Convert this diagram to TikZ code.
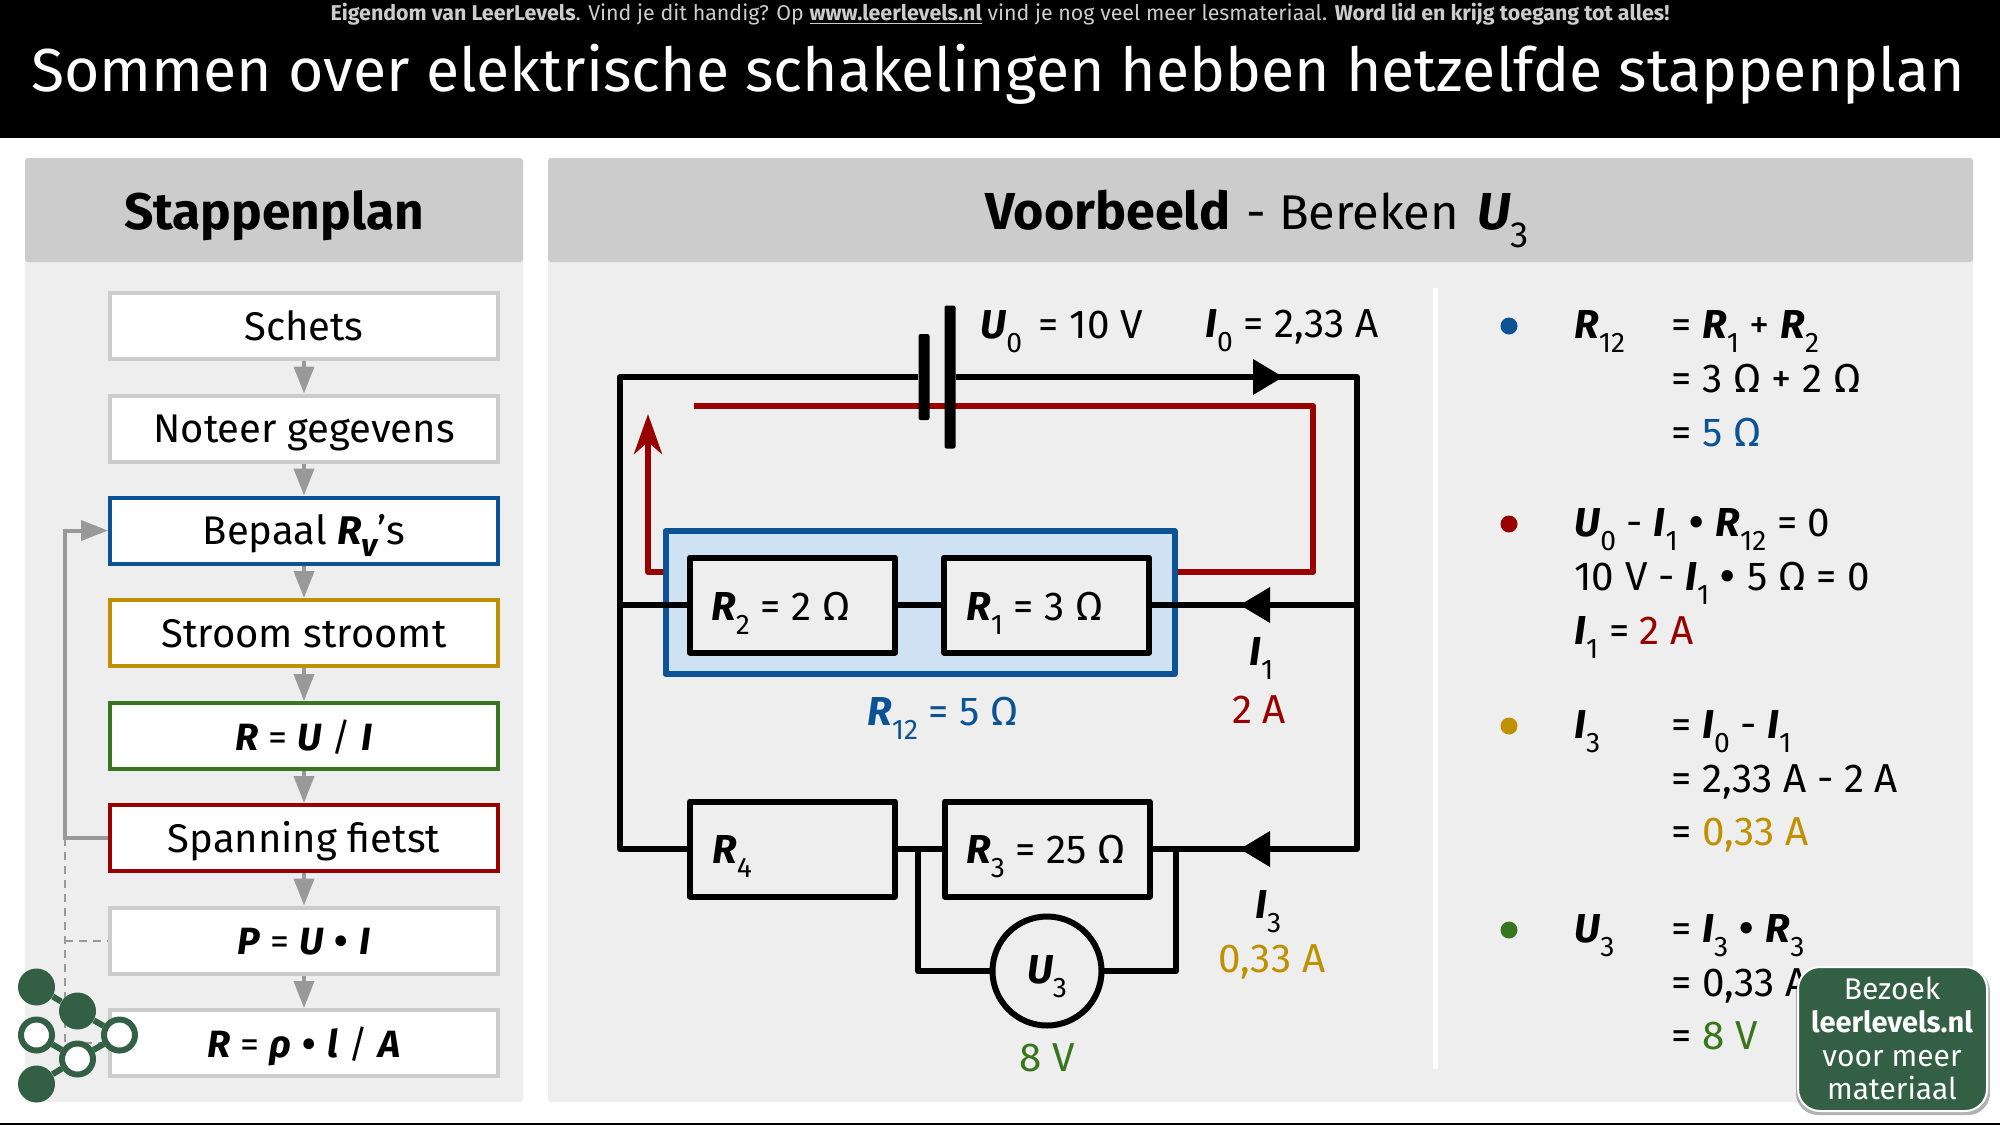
\documentclass[tikz,border=0pt]{standalone}
\usepackage{fontspec}
\usepackage{graphicx}
\setmainfont{Fira Sans}
\usetikzlibrary{arrows.meta,calc}
\definecolor{cblue}{HTML}{0B5394}
\definecolor{cred}{HTML}{990000}
\definecolor{cgold}{HTML}{BF9000}
\definecolor{cgreen}{HTML}{38761D}
\definecolor{lgreen}{HTML}{336045}
\definecolor{panel}{HTML}{EEEEEE}
\definecolor{phead}{HTML}{CCCCCC}
\definecolor{garr}{HTML}{999999}
\newcommand\vb[1]{{\bfseries\itshape #1}}
\newcommand\sbs[1]{\raisebox{-.36em}{\scalebox{.7}{#1}}}
\newcommand\fsz[1]{\fontsize{#1}{#1}\selectfont}
\newcommand\bdot{\raisebox{-.08em}{\scalebox{1.25}{•}}}
\tikzset{
  x=.5pt,y=-.5pt,
  txt/.style={anchor=base west,inner sep=0pt,font=\fsz{20.2pt}},
  ctxt/.style={anchor=base,inner sep=0pt,font=\fsz{20.2pt}},
  stepbox/.style={draw=phead,fill=white,line width=2pt,minimum width=194pt,minimum height=33pt,
    inner sep=0pt,text height=14pt,text depth=0pt,font=\fsz{20pt}},
  formbox/.style={stepbox,font=\fsz{19pt}},
  garrow/.style={draw=garr,line width=2pt,-{Triangle[length=13.5pt,width=10pt]}},
  wire/.style={draw=black,line width=3pt,line join=round},
  rbox/.style={draw=black,fill=panel,line width=3pt,minimum width=102.5pt,minimum height=47.5pt,inner sep=0pt,line join=round},
  plate/.style={fill=black,rounded corners=1pt,minimum width=5.5pt,inner sep=0pt},
  flow/.style={fill=black},
  bullet/.style={circle,minimum size=8.5pt,inner sep=0pt},
  logofill/.style={circle,fill=lgreen,minimum size=18.5pt,inner sep=0pt},
  logoring/.style={circle,draw=lgreen,fill=white,line width=3pt,minimum size=15.5pt,inner sep=0pt},
  logoline/.style={draw=lgreen,line width=3pt},
  dash line/.style={draw=garr,line width=1pt,dash pattern=on 4pt off 3pt},
}
\begin{document}
\begin{tikzpicture}
\useasboundingbox (0,0) rectangle (2000,1125);
\fill[white] (0,0) rectangle (2000,1125);
% top bar
\fill[black] (0,0) rectangle (2000,138);
\fill[black] (0,1123) rectangle (2000,1125);
\node[ctxt,text=phead,font=\fsz{10.7pt}] (topnote) at (1000,20) {\textbf{Eigendom van LeerLevels}. Vind je dit handig? Op \textbf{\underline{www.leerlevels.nl}} vind je nog veel meer lesmateriaal. \textbf{Word lid en krijg toegang tot alles!}};
\node[ctxt,text=white,font=\fsz{30.35pt}] (title) at (998,91) {Sommen over elektrische schakelingen hebben hetzelfde stappenplan};
% panels
\fill[panel,rounded corners=1.5pt] (25,158) rectangle (523,1102);
\fill[phead,rounded corners=1.5pt] (25,158) rectangle (523,262);
\fill[panel,rounded corners=1.5pt] (548,158) rectangle (1973,1102);
\fill[phead,rounded corners=1.5pt] (548,158) rectangle (1973,262);
\node[ctxt,font=\fsz{25.7pt}\bfseries] (h1) at (274,229) {Stappenplan};
\node[txt,font=\fsz{26pt}] (h2) at (985,229) {\textbf{Voorbeeld}\hspace{.05em} {\fsz{24.4pt}- Bereken }\hspace{.1em}\vb{U}\sbs{3}};
% step boxes
\node[stepbox] (s1) at (304,326) {Schets};
\node[stepbox] (s2) at (304,428.5) {Noteer gegevens};
\node[stepbox,draw=cblue] (s3) at (304,530.5) {Bepaal \vb{R}\raisebox{-.3em}{\vb{\scalebox{.8}{v}}}’s};
\node[stepbox,draw=cgold] (s4) at (304,633) {Stroom stroomt};
\node[formbox,draw=cgreen] (s5) at (304,736) {\vb{R} = \vb{U} / \vb{I}};
\node[stepbox,draw=cred] (s6) at (304,838) {Spanning fietst};
\node[formbox] (s7) at (304,940.5) {\vb{P} = \vb{U} \bdot\ \vb{I}};
\node[formbox] (s8) at (304,1043) {\vb{R} = \vb{ρ} \bdot\ \vb{l} / \vb{A}};
\foreach \a/\b in {s1/s2,s2/s3,s3/s4,s4/s5,s5/s6,s6/s7,s7/s8} \draw[garrow] (\a) -- (\b);
\coordinate (fbk) at (65,530.5);
\coordinate (fb1) at (65,838);
\coordinate (fb2) at (65,940.5);
\coordinate (fb3) at (65,1043);
\draw[dash line] (fb1) -- (fb3) -- (s8.west);
\draw[dash line] (fb2) -- (s7.west);
\draw[garrow] (s6.west) -- (fb1) -- (fbk) -- (s3.west);
% logo
\node[logofill] (l1) at (36.5,987) {};
\node[logofill] (l2) at (77.5,1011) {};
\node[logoring] (l3) at (36.5,1035) {};
\node[logoring] (l4) at (119.5,1035) {};
\node[logoring] (l5) at (77.5,1059) {};
\node[logofill] (l6) at (36.5,1084) {};
\foreach \a/\b in {l1/l2,l2/l4,l3/l5,l4/l5,l5/l6} \draw[logoline] (\a) -- (\b);
% divider
\fill[white] (1433,288) rectangle (1438,1069);
% circuit: coordinates
\coordinate (tl) at (620,377);
\coordinate (tr) at (1357,377);
\coordinate (bl) at (620,849);
\coordinate (br) at (1357,849);
\coordinate (ml) at (620,605);
\coordinate (mr) at (1357,605);
\coordinate (ra) at (694,406);
\coordinate (rb) at (1313,406);
\coordinate (rc) at (1313,572);
\coordinate (rd) at (648,572);
\coordinate (re) at (648,414);
\coordinate (jl) at (918,849);
\coordinate (jr) at (1176,849);
% red loop
\draw[draw=cred,line width=3pt,line join=round,-{Stealth[length=20pt,width=14pt,inset=6pt]}] (ra) -- (rb) -- (rc) -- (rd) -- (re);
% blue box
\node[draw=cblue,line width=3pt,minimum width=254.5pt,minimum height=71.5pt,inner sep=0pt,line join=round,fill={rgb,255:red,207;green,226;blue,243}] (grp) at (920,602.5) {};
% resistors
\node[rbox] (r2) at (792.5,605) {};
\node[rbox] (r1) at (1046.5,605) {};
\node[rbox] (r4) at (792.5,849) {};
\node[rbox] (r3) at (1047,849) {};
% voltmeter
\draw[wire] (jl) |- (1047,971) -| (jr);
\node[circle,draw=black,fill=panel,line width=3pt,minimum size=54.5pt,inner sep=0pt] (vm) at (1047,971) {};
% battery
\node[plate,minimum height=43pt] (ps) at (924,377) {};
\node[plate,minimum height=71.5pt] (pl) at (950,377) {};
% wires
\draw[wire] (ps) -- (tl) -- (bl) -- (r4);
\draw[wire] (pl) -- (tr) -- (br) -- (r3);
\draw[wire] (r4) -- (r3);
\draw[wire] (ml) -- (r2);
\draw[wire] (r2) -- (r1);
\draw[wire] (r1) -- (mr);
% current arrows
\fill[flow] (1253,359) -- (1283,377) -- (1253,395) -- cycle;
\fill[flow] (1270,587) -- (1240,605) -- (1270,623) -- cycle;
\fill[flow] (1270,831) -- (1240,849) -- (1270,867) -- cycle;
% circuit labels
\node[txt] (lu0) at (980,338) {\vb{U}\sbs{0}\hspace{.15em} = 10 V};
\node[txt] (li0) at (1205,337) {\vb{I}\sbs{0} = 2,33 A};
\node[txt] (lr2) at (711,620) {\vb{R}\sbs{2} = 2 Ω};
\node[txt] (lr1) at (966,620) {\vb{R}\sbs{1} = 3 Ω};
\node[txt] (li1) at (1249,665) {\vb{I}\sbs{1}};
\node[ctxt,text=cred] (v2a) at (1259,723) {2 A};
\node[txt,text=cblue] (lr12) at (867,725) {\vb{R}\sbs{12} = 5 Ω};
\node[txt] (lr4) at (712,863) {\vb{R}\sbs{4}};
\node[txt] (lr3) at (966,863) {\vb{R}\sbs{3} = 25 Ω};
\node[txt] (li3) at (1255,918) {\vb{I}\sbs{3}};
\node[ctxt,text=cgold] (v033) at (1272,972) {0,33 A};
\node[ctxt] (lu3) at (1047,983) {\vb{U}\sbs{3}};
\node[ctxt,text=cgreen] (v8) at (1047,1071) {8 V};
% calculations
\node[bullet,fill=cblue] (b1) at (1509,326) {};
\node[txt] (a1) at (1574,338) {\vb{R}\sbs{12}};
\node[txt] (a2) at (1671,338) {= \vb{R}\sbs{1} + \vb{R}\sbs{2}};
\node[txt] (a3) at (1671,392) {= 3 Ω + 2 Ω};
\node[txt] (a4) at (1671,446) {= \textcolor{cblue}{5 Ω}};
\node[bullet,fill=cred] (b2) at (1509,524) {};
\node[txt] (c1) at (1574,536) {\vb{U}\sbs{0} - \vb{I}\sbs{1} \bdot\ \vb{R}\sbs{12} = 0};
\node[txt] (c2) at (1574,590) {10 V - \vb{I}\sbs{1} \bdot\ 5 Ω = 0};
\node[txt] (c3) at (1574,644) {\vb{I}\sbs{1} = \textcolor{cred}{2 A}};
\node[bullet,fill=cgold] (b3) at (1509,726) {};
\node[txt] (d1) at (1574,738) {\vb{I}\sbs{3}};
\node[txt] (d2) at (1671,738) {= \vb{I}\sbs{0} - \vb{I}\sbs{1}};
\node[txt] (d3) at (1671,792) {= 2,33 A - 2 A};
\node[txt] (d4) at (1671,845) {= \textcolor{cgold}{0,33 A}};
\node[bullet,fill=cgreen] (b4) at (1509,930) {};
\node[txt] (e1) at (1574,942) {\vb{U}\sbs{3}};
\node[txt] (e2) at (1671,942) {= \vb{I}\sbs{3} \bdot\ \vb{R}\sbs{3}};
\node[txt] (e3) at (1671,996) {= 0,33 A};
\node[txt] (e4) at (1671,1049) {= \textcolor{cgreen}{8 V}};
% badge
\fill[black,opacity=.3,rounded corners=11pt] (1796,969) rectangle (1990,1115);
\draw[draw=white,fill=lgreen,line width=1pt,rounded corners=11pt] (1798,967) rectangle (1987,1111);
\node[ctxt,text=white,font=\fsz{15pt}] (g1) at (1892,999) {Bezoek};
\node[ctxt,text=white,font=\fsz{14.5pt}\bfseries] (g2) at (1892,1032) {leerlevels.nl};
\node[ctxt,text=white,font=\fsz{15pt}] (g3) at (1892,1066) {voor meer};
\node[ctxt,text=white,font=\fsz{15pt}] (g4) at (1892,1099) {materiaal};
\end{tikzpicture}
\end{document}
